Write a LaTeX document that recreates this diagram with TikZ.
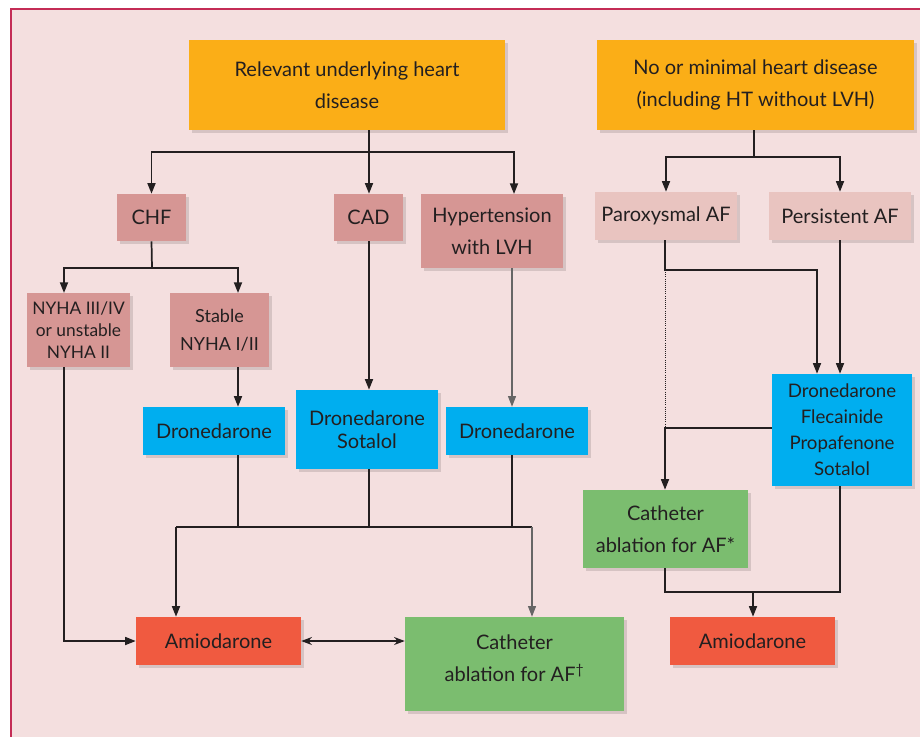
\documentclass[tikz,border=0pt]{standalone}
\usepackage{fontspec}
\setmainfont{Lato}
\usetikzlibrary{arrows.meta,shadows,calc}
\definecolor{bg}{RGB}{244,223,223}
\definecolor{framec}{RGB}{196,44,86}
\definecolor{orng}{RGB}{251,174,23}
\definecolor{rose}{RGB}{214,150,148}
\definecolor{lrose}{RGB}{233,196,192}
\definecolor{cyanb}{RGB}{0,174,239}
\definecolor{grn}{RGB}{123,189,111}
\definecolor{redb}{RGB}{240,90,64}
\definecolor{ink}{RGB}{35,31,32}
\tikzset{
 box/.style={inner sep=0pt, align=center, text=ink, font=\fontsize{15}{24}\selectfont,
   drop shadow={shadow xshift=2.5pt,shadow yshift=-2.5pt,opacity=0.12,fill=black}},
 ln/.style={draw=ink, line width=1.3pt},
 arr/.style={ln, -{Triangle[length=8pt,width=6pt]}},
 garr/.style={draw=black!60, line width=0.8pt, -{Triangle[length=8pt,width=6pt]}},
 darr/.style={draw=ink, line width=0.9pt, {Stealth[length=8pt,width=6pt]}-{Stealth[length=8pt,width=6pt]}},
 dotln/.style={draw=ink, line width=0.6pt, densely dotted},
}
\newcommand\bx[7]{\node[#6, minimum width={(#4-#2)*0.75pt}, minimum height={(#5-#3)*0.75pt}] (#1) at ({(#2+#4)/2},{(#3+#5)/2}) {#7};}
\begin{document}
\begin{tikzpicture}[x=0.75pt,y=-0.75pt]
\useasboundingbox (0,0) rectangle (920,736);
\fill[bg] (10,8) rectangle (930,746);
\draw[framec, line width=1.6pt] (10.8,750) -- (10.8,8.8) -- (935,8.8);

\bx{rel}{189}{40}{505}{130}{box,fill=orng}{Relevant underlying heart\\disease}
\bx{nomin}{597}{40}{914}{130}{box,fill=orng}{No or minimal heart disease\\(including HT without LVH)}
\bx{chf}{117}{194}{186}{241}{box,fill=rose}{CHF}
\bx{cad}{334}{194}{403}{241}{box,fill=rose}{CAD}
\bx{hyp}{421}{194}{563}{268}{box,fill=rose}{Hypertension\\with LVH}
\bx{parox}{595}{192}{737}{240}{box,fill=lrose}{Paroxysmal AF}
\bx{pers}{769}{192}{911}{240}{box,fill=lrose}{Persistent AF}
\bx{nyha}{27}{293}{130}{367}{box,fill=rose,font=\fontsize{13}{16.5}\selectfont}{NYHA III/IV\\or unstable\\NYHA II}
\bx{stab}{170}{293}{269}{367}{box,fill=rose,font=\fontsize{13.5}{21}\selectfont}{Stable\\NYHA I/II}
\bx{dron1}{143}{407}{285}{455}{box,fill=cyanb}{Dronedarone}
\bx{dron2}{296}{390}{438}{469}{box,fill=cyanb,font=\fontsize{15}{17.5}\selectfont}{Dronedarone\\Sotalol}
\bx{dron3}{446}{407}{588}{455}{box,fill=cyanb}{Dronedarone}
\bx{multi}{772}{374}{912}{486}{box,fill=cyanb,font=\fontsize{14}{19.5}\selectfont}{Dronedarone\\Flecainide\\Propafenone\\Sotalol}
\bx{cath2}{583}{490}{748}{568}{box,fill=grn}{Catheter\\ablation for AF*}
\bx{amio1}{136}{617}{301}{665}{box,fill=redb}{Amiodarone}
\bx{cath1}{405}{617}{624}{711}{box,fill=grn}{Catheter\\ablation for AF\textsuperscript{†}\\[-23pt]\strut}
\bx{amio2}{670}{617}{835}{665}{box,fill=redb}{Amiodarone}

% left tree
\coordinate (r1) at (369,152);
\coordinate (hypin) at (514,194);
\draw[ln] (rel.south -| r1) -- (r1);
\draw[arr] (r1) -- (cad.north -| r1);
\draw[arr] (r1) -| (chf.north);
\draw[arr] (r1) -| (hypin);

\coordinate (c1) at (152,268);
\coordinate (nyin) at (64,293);
\coordinate (stin) at (238,293);
\draw[ln] (chf.south) -- (c1);
\draw[arr] (c1) -| (nyin);
\draw[arr] (c1) -| (stin);
\draw[arr] (stab.south -| stin) -- (dron1.north -| stin);
\draw[arr] (cad.south -| r1) -- (dron2.north -| r1);
\coordinate (hx) at (512,0);
\draw[garr] (hyp.south -| hx) -- (dron3.north -| hx);

\coordinate (ml) at (176,527);
\coordinate (mr) at (532,527);
\draw[ln] (dron1.south -| stin) -- (stin |- ml);
\draw[ln] (dron2.south -| r1) -- (r1 |- ml);
\draw[ln] (dron3.south -| hx) -- (hx |- ml);
\draw[ln] (ml) -- (mr);
\draw[arr] (ml) -- (ml |- amio1.north);
\draw[garr] (mr) -- (mr |- cath1.north);
\draw[arr] (nyha.south -| nyin) |- (amio1.west);
\draw[darr] (amio1.east) -- (amio1.east -| cath1.west);

% right tree
\coordinate (r2) at (754,157);
\draw[ln] (nomin.south -| r2) -- (r2);
\draw[arr] (r2) -| (parox.north);
\draw[arr] (r2) -| (pers.north);
\coordinate (p1) at (665,270);
\coordinate (px) at (817,270);
\draw[arr] (parox.south -| p1) -- (p1) -- (px) -- (px |- multi.north);
\draw[arr] (pers.south) -- (pers.south |- multi.north);
\coordinate (q) at (665,428);
\draw[dotln] (p1) -- (q);
\draw[arr] (multi.west |- q) -- (q) -- (q |- cath2.north);
\coordinate (b) at (753,592);
\draw[ln] (cath2.south -| q) |- (pers.south |- b) -- (pers.south |- multi.south);
\draw[arr] (b) -- (b |- amio2.north);
\end{tikzpicture}
\end{document}
